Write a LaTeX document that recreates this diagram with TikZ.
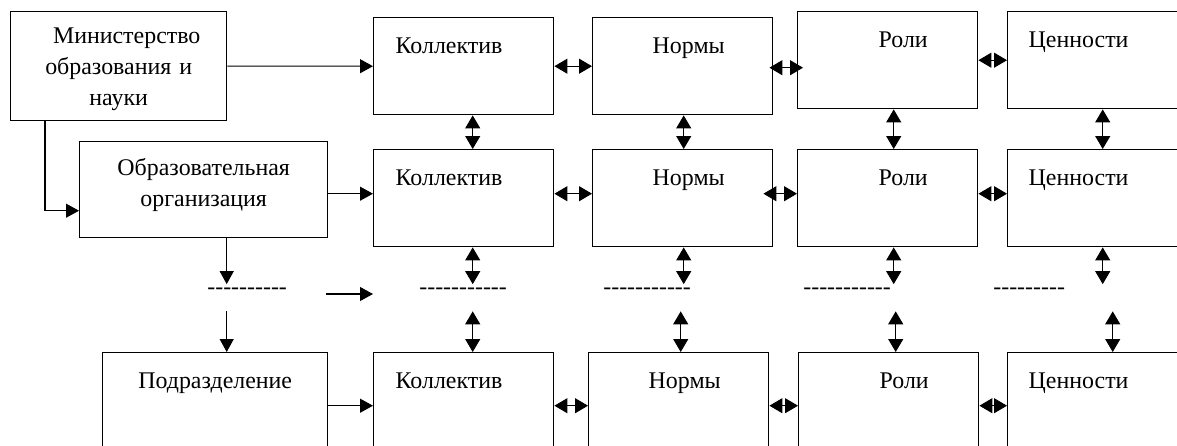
\documentclass[tikz,border=0pt]{standalone}
\usepackage{fontspec}
\setmainfont{Liberation Serif}
\usetikzlibrary{arrows.meta}

% a row of single hyphens (kern keeps them from joining into dashes)
\newcommand\hyphenrow[1]{\foreach \k in {1,...,#1}{-\kern0pt}}

\begin{document}
\begin{tikzpicture}[
  x=0.2mm, y=-0.2mm,
  font=\fontsize{13.6}{17.5}\selectfont,
  box/.style={rectangle, draw=black, line width=0.8pt, anchor=north west,
              inner xsep=0pt, inner ysep=0pt, align=center},
  cell/.style={box, text width=36mm, align=left, text height=7.2mm, text depth=12.2mm,
               execute at begin node={\hspace*{#1}}},
  low/.style={text depth=14mm},
  gaprow/.style={anchor=base west, inner xsep=0pt, inner ysep=0.6mm, text depth=2.8mm},
  arr/.style={-{Triangle[length=2.6mm, width=2.8mm]}, line width=0.6pt},
  dbl/.style={{Triangle[length=2.6mm, width=3mm]}-{Triangle[length=2.6mm, width=3mm]},
              line width=0.6pt},
]
\useasboundingbox (0,0) rectangle (1177,445);

% ================= NODES (explicit coords, px) =================
\node[box, text width=43.2mm, text height=6.4mm, text depth=15.4mm] (min) at (10,11)
  {\hspace*{3.2mm}Министерство\\образования и\hspace*{4mm}\\науки\hspace*{4mm}};
\node[box, text width=49.6mm, text height=6.8mm, text depth=12.4mm] (obr) at (79,141)
  {Образовательная\\организация};
\node[box, text width=45mm, text height=7.2mm, text depth=14mm] (pod) at (102,352)
  {Подразделение};

\node[cell=4.4mm]       (kol1) at (373,17)   {Коллектив};
\node[cell=12mm]        (nor1) at (592,17)   {Нормы};
\node[cell=16.2mm]      (rol1) at (797,11)   {Роли};
\node[cell=4.2mm]       (cen1) at (1007,11)  {Ценности};

\node[cell=4.4mm]       (kol2) at (373,149)  {Коллектив};
\node[cell=12mm]        (nor2) at (592,149)  {Нормы};
\node[cell=16.2mm]      (rol2) at (797,149)  {Роли};
\node[cell=4.2mm]       (cen2) at (1007,149) {Ценности};

\node[cell=4.4mm, low]  (kol3) at (373,352)  {Коллектив};
\node[cell=12mm, low]   (nor3) at (588,352)  {Нормы};
\node[cell=16.2mm, low] (rol3) at (798,352)  {Роли};
\node[cell=4.2mm, low]  (cen3) at (1007,352) {Ценности};

% dotted middle row
\node[gaprow] (gapobr) at (207,294) {\hyphenrow{10}};
\node[gaprow] (gapkol) at (419,294) {\hyphenrow{11}};
\node[gaprow] (gapnor) at (603,294) {\hyphenrow{11}};
\node[gaprow] (gaprol) at (803,294) {\hyphenrow{11}};
\node[gaprow] (gapcen) at (993,294) {\hyphenrow{9}};

% ================= EDGES =================
\draw[arr] (min) -- (kol1);
\draw[arr] ([xshift=7mm]min.south west) |- ([yshift=-4.2mm]obr.west);
\draw[arr] ([yshift=-0.8mm]obr.east) -- ([yshift=-0.8mm]obr.east -| kol2.west);
\draw[arr] ([xshift=4.6mm]obr.south) -- ([xshift=4.6mm]obr.south |- gapobr.north);
\draw[arr] ([xshift=2.3mm]pod.north |- gapobr.south) -- ([xshift=2.3mm]pod.north);
\draw[arr] ([xshift=7.8mm]gapobr.base east) -- (gapobr.base east -| kol3.west);
\draw[arr] (pod) -- (kol3);

% rows
\draw[dbl] (kol1) -- (nor1);
\draw[dbl, shorten <=-0.8mm, shorten >=-1.2mm] ([yshift=-0.3mm]nor1.east)
  -- ([yshift=-0.3mm]nor1.east -| rol1.west);
\draw[dbl] (rol1) -- (cen1);
\foreach \r/\dy/\sh in {2/0.9mm/-2mm, 3/0mm/0mm}{
  \draw[dbl] ([yshift=\dy]kol\r.east) -- ([yshift=\dy]nor\r.west);
  \draw[dbl, shorten <=\sh] ([yshift=\dy]nor\r.east) -- ([yshift=\dy]rol\r.west);
  \draw[dbl] ([yshift=\dy]rol\r.east) -- ([yshift=\dy]cen\r.west);
}

% columns
\foreach \c/\up/\dn in {kol/1.8mm/1.8mm, nor/0.2mm/0.4mm, rol/1.2mm/1.4mm, cen/1mm/3mm}{
  \draw[dbl] ([xshift=\up]\c1.south) -- ([xshift=\up]\c2.north);
  \draw[dbl] ([xshift=\up]\c2.south) -- ([xshift=\up]\c2.south |- gap\c.north);
  \draw[dbl] ([xshift=\dn]\c3.north |- gap\c.south) -- ([xshift=\dn]\c3.north);
}

\end{tikzpicture}
\end{document}
